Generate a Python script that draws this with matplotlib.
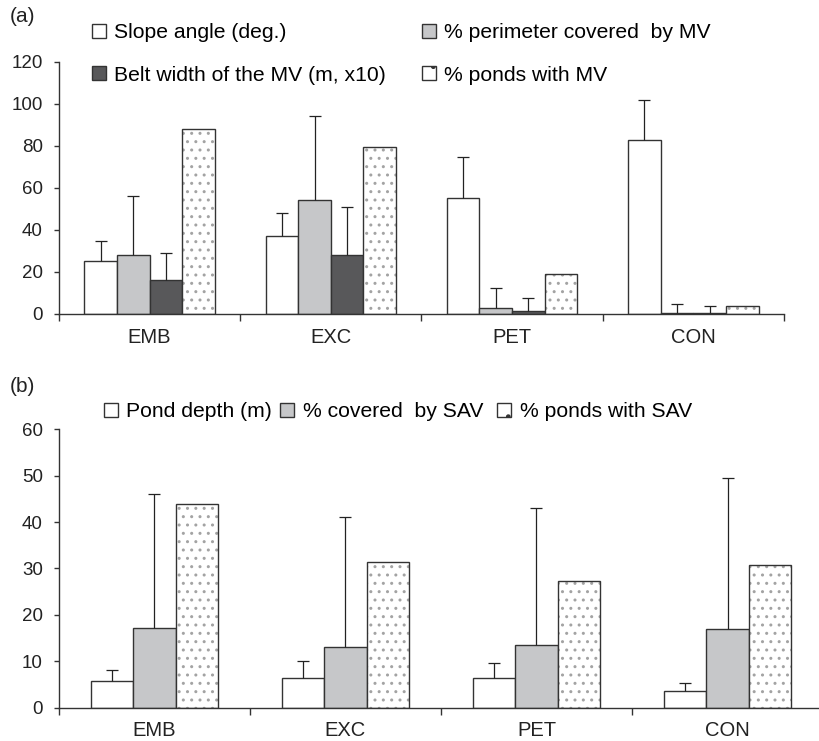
import numpy as np
import matplotlib
matplotlib.use("Agg")
import matplotlib.pyplot as plt
from matplotlib.patches import Patch

plt.rcParams['font.family'] = ['Liberation Sans', 'DejaVu Sans']
plt.rcParams['hatch.linewidth'] = 1.0

sites = ['EMB', 'EXC', 'PET', 'CON']

# panel (a)
slope = [25, 37, 55, 83]
slope_err = [9.7, 11, 19.7, 19]
perimeter = [28.3, 54.1, 3.0, 0.6]
perimeter_err = [28, 40, 9.5, 4.0]
belt = [16.3, 28.2, 1.4, 0.6]
belt_err = [12.6, 22.6, 6.4, 3.2]
ponds_mv = [88, 79.4, 18.8, 3.8]

# panel (b)
depth = [5.7, 6.4, 6.4, 3.5]
depth_err = [2.5, 3.6, 3.3, 1.9]
sav_cover = [17.2, 13.0, 13.6, 16.9]
sav_cover_err = [28.9, 28.2, 29.4, 32.5]
ponds_sav = [44.0, 31.5, 27.2, 30.8]

EDGE = '#333333'
GRAY = '#c6c7c9'
DARK = '#58585a'
DOTS = '#a3a3a3'


def style_axes(ax, ymax, ystep, xpad):
    ax.set_xlim(-0.5, 3.5)
    ax.set_ylim(0, ymax)
    ax.set_yticks(np.arange(0, ymax + 1, ystep))
    ax.set_xticks(np.arange(-0.5, 4.0, 1.0))
    ax.set_xticklabels([])
    ax.set_xticks(np.arange(4), minor=True)
    ax.set_xticklabels(sites, minor=True, fontsize=14.5)
    ax.tick_params(axis='x', which='major', direction='out', length=5, width=1, color=EDGE)
    ax.tick_params(axis='x', which='minor', length=0, pad=xpad, labelcolor='#222222')
    ax.tick_params(axis='y', direction='out', length=3.6, width=1, color=EDGE,
                   labelsize=13.5, pad=8, labelcolor='#222222')
    for s in ['top', 'right']:
        ax.spines[s].set_visible(False)
    for s in ['left', 'bottom']:
        ax.spines[s].set_color(EDGE)
        ax.spines[s].set_linewidth(1.0)


def bar_with_err(ax, x, vals, w, face, err=None, dotted=False):
    if dotted:
        ax.bar(x, vals, w, color='white', edgecolor=DOTS, linewidth=0, hatch='..', zorder=2)
        ax.bar(x, vals, w, fill=False, edgecolor=EDGE, linewidth=1.0, zorder=3)
    else:
        ax.bar(x, vals, w, color=face, edgecolor=EDGE, linewidth=1.0, zorder=2)
    if err is not None:
        line, caps, bars = ax.errorbar(x, vals, yerr=[np.zeros(len(vals)), err], fmt='none',
                                       ecolor='#222222', elinewidth=0.9, capsize=4,
                                       capthick=0.9, zorder=4)
        caps[0].set_visible(False)


fig = plt.figure(figsize=(8.19, 7.41), dpi=100)

# ---- (a)
ax1 = fig.add_axes([0.072, 0.5763, 0.8852, 0.3401])
xa = np.arange(4)
wa = 0.18
bar_with_err(ax1, xa - 1.5 * wa, slope, wa, 'white', slope_err)
bar_with_err(ax1, xa - 0.5 * wa, perimeter, wa, GRAY, perimeter_err)
bar_with_err(ax1, xa + 0.5 * wa, belt, wa, DARK, belt_err)
bar_with_err(ax1, xa + 1.5 * wa, ponds_mv, wa, 'white', dotted=True)
style_axes(ax1, 120, 20, 10)

h_slope = Patch(facecolor='white', edgecolor=EDGE, linewidth=1.0)
h_perim = Patch(facecolor=GRAY, edgecolor=EDGE, linewidth=1.0)
h_belt = Patch(facecolor=DARK, edgecolor=EDGE, linewidth=1.0)
h_ponds = Patch(facecolor='white', edgecolor=EDGE, linewidth=1.0, hatch='.')
ax1.legend([h_slope, h_belt, h_perim, h_ponds],
           ['Slope angle (deg.)', 'Belt width of the MV (m, x10)',
            '% perimeter covered  by MV', '% ponds with MV'],
           ncol=2, frameon=False, fontsize=15.2, handlelength=0.65, handleheight=0.65,
           handletextpad=0.4, columnspacing=1.7, labelspacing=1.12,
           loc='upper left', bbox_to_anchor=(0.1125, 0.969), bbox_transform=fig.transFigure,
           borderaxespad=0, borderpad=0)
fig.text(0.012, 0.978, '(a)', fontsize=15, va='center', color='#222222')

# ---- (b)
ax2 = fig.add_axes([0.072, 0.0449, 0.9329, 0.3758])
wb = 0.222
bar_with_err(ax2, xa - wb, depth, wb, 'white', depth_err)
bar_with_err(ax2, xa, sav_cover, wb, GRAY, sav_cover_err)
bar_with_err(ax2, xa + wb, ponds_sav, wb, 'white', dotted=True)
style_axes(ax2, 60, 10, 9.5)

h_sav = Patch(facecolor='white', edgecolor=EDGE, linewidth=1.0, hatch='.')
ax2.legend([h_slope, h_perim, h_sav],
           ['Pond depth (m)', '% covered  by SAV ', '% ponds with SAV'],
           ncol=3, frameon=False, fontsize=15.2, handlelength=0.65, handleheight=0.65,
           handletextpad=0.4, columnspacing=0.4,
           loc='center left', bbox_to_anchor=(0.127, 0.444), bbox_transform=fig.transFigure,
           borderaxespad=0, borderpad=0)
fig.text(0.012, 0.478, '(b)', fontsize=15, va='center', color='#222222')

fig.savefig('out.png', dpi=100)
